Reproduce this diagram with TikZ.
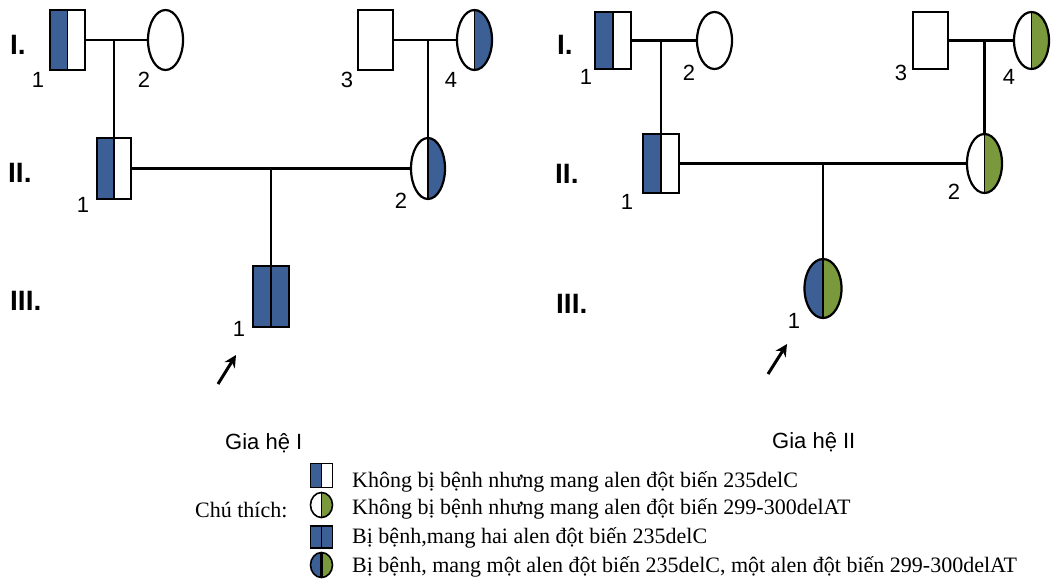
\documentclass[tikz,border=0pt]{standalone}
\usepackage{fontspec}
\setmainfont{Liberation Serif}
\newfontfamily\arialfont{Liberation Sans}
\usetikzlibrary{shapes.geometric,arrows.meta}
\definecolor{pedblue}{RGB}{60,95,150}
\definecolor{pedgreen}{RGB}{122,152,60}

\tikzset{
  x=1pt, y=-1pt,
  person/.style={draw=black, line width=2.2pt, inner sep=0pt, outer sep=0pt, fill=white},
  male/.style={person, rectangle},
  female/.style={person, ellipse},
  halfL/.style={path picture={
      \fill[#1] (path picture bounding box.south west) rectangle (path picture bounding box.north);
      \draw[line width=1.4pt] (path picture bounding box.south) -- (path picture bounding box.north);}},
  halfR/.style={path picture={
      \fill[#1] (path picture bounding box.south) rectangle (path picture bounding box.north east);
      \draw[line width=1.4pt] (path picture bounding box.south) -- (path picture bounding box.north);}},
  twohalves/.style n args={3}{path picture={
      \fill[#1] (path picture bounding box.south west) rectangle (path picture bounding box.north);
      \fill[#2] (path picture bounding box.south) rectangle (path picture bounding box.north east);
      \draw[line width=#3] (path picture bounding box.south) -- (path picture bounding box.north);}},
  link/.style={line width=2.2pt},
  num/.style={font=\arialfont\fontsize{22}{24}\selectfont, inner sep=0pt},
  gen/.style={font=\arialfont\bfseries\fontsize{28}{30}\selectfont, anchor=west, inner sep=0pt},
  caption/.style={font=\arialfont\fontsize{22}{24}\selectfont, anchor=base west, inner sep=0pt},
  legtext/.style={font=\fontsize{22}{24}\selectfont, anchor=base west, inner sep=0pt},
  legsym/.style={line width=1.6pt, minimum width=22pt},
  pointer/.style={line width=3pt, -{Stealth[length=12pt,width=12pt]}},
}

\begin{document}
\begin{tikzpicture}
\useasboundingbox (0,0) rectangle (1051,579);

% ---------- Gia he I ----------
\node[male, halfL=pedblue, minimum width=35pt, minimum height=60pt] (aI1) at (67.5,40) {};
\node[female, minimum width=35pt, minimum height=60pt] (aI2) at (165.5,40) {};
\node[male, minimum width=35pt, minimum height=60pt] (aI3) at (375.5,40) {};
\node[female, halfR=pedblue, minimum width=35pt, minimum height=60pt] (aI4) at (474.5,40) {};
\node[male, halfL=pedblue, minimum width=34pt, minimum height=61pt] (aII1) at (114,168.5) {};
\node[female, halfR=pedblue, minimum width=34pt, minimum height=61pt] (aII2) at (428,168.5) {};
\node[male, twohalves={pedblue}{pedblue}{1.6pt}, minimum width=36pt, minimum height=61pt] (aIII1) at (271,296.5) {};

\draw[link] (aI1.east) -- (aI2.west);
\draw[link] (aI3.east) -- (aI4.west);
\draw[link] (aII1.east) -- (aII2.west);
\draw[link] (aII1.north) -- (aII1.north |- aI1.east);
\draw[link] (aII2.north) -- (aII2.north |- aI3.east);
\draw[link] (aIII1.north) -- (aIII1.north |- aII1.east);

\node[num] (naI1) at (38,80) {1};
\node[num] (naI2) at (144,80) {2};
\node[num] (naI3) at (347,80) {3};
\node[num] (naI4) at (451,80) {4};
\node[num] (naII1) at (83,205) {1};
\node[num] (naII2) at (401,201) {2};
\node[num] (naIII1) at (239,329) {1};

\node[gen] (gaI) at (10,45) {I.};
\node[gen] (gaII) at (8,172.5) {II.};
\node[gen] (gaIII) at (10,301) {III.};

\coordinate (pa0) at (218,384);
\coordinate (pa1) at (236,355);
\draw[pointer] (pa0) -- (pa1);

\node[caption] (capA) at (225,449) {Gia hệ I};

% ---------- Gia he II ----------
\node[male, halfL=pedblue, minimum width=36pt, minimum height=57pt] (bI1) at (613,40.5) {};
\node[female, minimum width=35pt, minimum height=57pt] (bI2) at (714.5,40.5) {};
\node[male, minimum width=35pt, minimum height=57pt] (bI3) at (930.5,40.5) {};
\node[female, halfR=pedgreen, minimum width=35pt, minimum height=57pt] (bI4) at (1031.5,40.5) {};
\node[male, halfL=pedblue, minimum width=36pt, minimum height=59pt] (bII1) at (661,163.5) {};
\node[female, halfR=pedgreen, minimum width=35pt, minimum height=59pt] (bII2) at (984.5,163.5) {};
\node[female, twohalves={pedblue}{pedgreen}{1.6pt}, minimum width=37pt, minimum height=59pt] (bIII1) at (823,288.5) {};

\draw[link] (bI1.east) -- (bI2.west);
\draw[link] (bI3.east) -- (bI4.west);
\draw[link] (bII1.east) -- (bII2.west);
\draw[link] (bII1.north) -- (bII1.north |- bI1.east);
\draw[link] (bII2.north) -- (bII2.north |- bI3.east);
\draw[link] (bIII1.north) -- (bIII1.north |- bII1.east);

\node[num] (nbI1) at (586,77) {1};
\node[num] (nbI2) at (689,73) {2};
\node[num] (nbI3) at (901,73) {3};
\node[num] (nbI4) at (1009,77) {4};
\node[num] (nbII1) at (627,202) {1};
\node[num] (nbII2) at (954,192) {2};
\node[num] (nbIII1) at (794,321) {1};

\node[gen] (gbI) at (557,45) {I.};
\node[gen] (gbII) at (555,174) {II.};
\node[gen] (gbIII) at (556,304) {III.};

\coordinate (pb0) at (768,374);
\coordinate (pb1) at (787,344);
\draw[pointer] (pb0) -- (pb1);

\node[caption] (capB) at (772,448) {Gia hệ II};

% ---------- Chu thich ----------
\node[legtext] (legtitle) at (195,517) {Chú thích:};

\node[male, legsym, halfL=pedblue, minimum height=24pt] (k1) at (321.5,475.5) {};
\node[female, legsym, halfR=pedgreen, minimum height=25pt] (k2) at (321.5,505) {};
\node[male, legsym, twohalves={pedblue}{pedblue}{1.6pt}, minimum height=22pt] (k3) at (321.5,537) {};
\node[female, legsym, twohalves={pedblue}{pedgreen}{2.6pt}, minimum height=25pt] (k4) at (321.5,565) {};

\node[legtext] (t1) at (352,487) {Không bị bệnh nhưng mang alen đột biến 235delC};
\node[legtext] (t2) at (352,514) {Không bị bệnh nhưng mang alen đột biến 299-300delAT};
\node[legtext] (t3) at (352,543) {Bị bệnh,mang hai alen đột biến 235delC};
\node[legtext] (t4) at (352,572) {Bị bệnh, mang một alen đột biến 235delC, một alen đột biến 299-300delAT};
\end{tikzpicture}
\end{document}
